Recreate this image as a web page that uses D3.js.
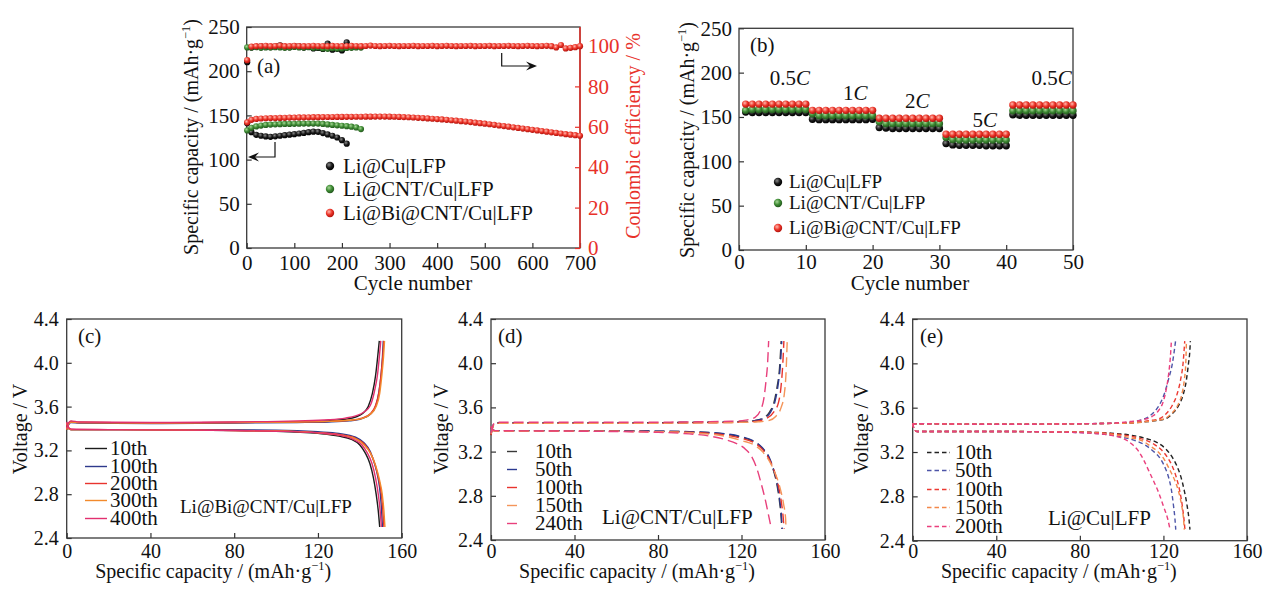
<!DOCTYPE html>
<html>
<head>
<meta charset="utf-8">
<script src="https://cdn.jsdelivr.net/npm/d3@7"></script>
<style>
  body { margin: 0; background: #fff; }
  svg { font-family: "Liberation Serif", "Times New Roman", serif; }
</style>
</head>
<body>
<svg id="chart" width="1269" height="593"></svg>
<script>
// ---- (a) cycling data, sampled every 10 cycles (first point = cycle 1)
const capRed = [142, 145, 146, 146.5, 146.8, 147, 147, 147.2, 147.3, 147.5,
  147.6, 147.7, 147.8, 147.9, 148, 148, 148.1, 148.2, 148.2, 148.3,
  148.3, 148.4, 148.4, 148.5, 148.5, 148.6, 148.6, 148.7, 148.7, 148.7,
  148.6, 148.5, 148.3, 148.1, 147.9, 147.6, 147.3, 147, 146.6, 146.2,
  145.8, 145.4, 145, 144.5, 144, 143.5, 143, 142.4, 141.8, 141.2,
  140.6, 140, 139.3, 138.6, 137.9, 137.2, 136.5, 135.8, 135.1, 134.4,
  133.7, 133, 132.3, 131.6, 130.9, 130.2, 129.5, 128.8, 128.2, 127.6,
  127];
const ceRed = [93, 99.7, 99.9, 100, 100.1, 99.9, 100, 100.2, 99.9, 100,
  100.1, 100, 99.9, 100, 100.1, 100, 100, 99.9, 100.1, 100,
  99.9, 100, 100.1, 100, 99.9, 100, 100.2, 100, 99.9, 100,
  100.1, 100, 99.9, 100, 100, 100.1, 99.9, 100, 100, 100.1,
  99.9, 100, 100.1, 100, 99.9, 100, 100, 100.1, 99.9, 100,
  100, 100.1, 99.9, 100, 100, 100.1, 100, 99.9, 100, 100.1,
  100, 99.9, 100, 100.1, 99.9, 99.3, 100.5, 98.8, 99.1, 99.4,
  99.9];
const capBlack = [141, 131, 128, 127, 126.2, 125.8, 126.3, 127, 127.6, 128.2,
  128.8, 129.5, 130.2, 131, 131.6, 131.4, 130, 128.5, 127, 125,
  122, 118];
const ceBlack = [92, 99.3, 99.6, 99.8, 99.7, 99.5, 99.8, 100.3, 99.6, 99.4,
  100, 99.8, 99.2, 99.5, 98.8, 99, 98.5, 101.2, 98.2, 98.6,
  97.8, 101.8];
const capGreen = [133, 136, 137.5, 138.5, 139.2, 139.6, 139.9, 140.1, 140.3, 140.4,
  140.5, 140.6, 140.7, 140.8, 140.8, 140.7, 140.3, 139.8, 139.2, 138.8,
  138.3, 137.8, 137.2, 136.4, 134.5];
const ceGreen = [99.3, 99.2, 99.4, 99.1, 99.3, 99.2, 99.4, 99.3, 99.1, 99.2,
  99.5, 99.3, 99.2, 99.4, 99.1, 99.3, 98.8, 98.6, 98.9, 98.7,
  98.8, 99, 99.1, 99.3, 99.2];
const cellNames = ['Li@Cu|LFP', 'Li@CNT/Cu|LFP', 'Li@Bi@CNT/Cu|LFP'];

// ---- (b) rate data, cycles 1..50
const rateBlack = [155.5, 155, 155, 155, 155, 155, 155, 155, 155, 155,
  147.5, 147, 147, 147, 147, 147, 147, 147, 147, 147.5,
  138, 137.5, 137, 137, 137, 137, 137, 137, 137, 137,
  120, 118.5, 118, 118, 118, 118, 117.5, 117.5, 117.5, 117.5,
  152.5, 152, 152, 152, 152, 152, 152, 152, 152, 152];
const rateGreen = [157.5, 158.5, 158.5, 158.5, 158.5, 158.5, 158.5, 158.5, 158.5, 158.5,
  153.5, 151.5, 151.5, 151.5, 151.5, 151.5, 151.5, 151.5, 151.5, 151.5,
  144.5, 142.5, 142.5, 142.5, 142.5, 142.5, 142.5, 142.5, 142.5, 142.5,
  127, 124.5, 124, 124, 124, 124, 124, 124, 124, 124,
  157, 157, 157, 157, 157, 157, 157, 157, 157, 157];
const rateRed = [164.5, 164.5, 164.5, 164.5, 164.5, 164.5, 164.5, 164.5, 164.5, 164.5,
  157.5, 157.5, 157.5, 157.5, 157.5, 157.5, 157.5, 157.5, 157.5, 157.5,
  148.5, 148.5, 148.5, 148.5, 148.5, 148.5, 148.5, 148.5, 148.5, 148.5,
  130.5, 130.5, 130.5, 130.5, 130.5, 130.5, 130.5, 130.5, 130.5, 130.5,
  163.5, 163.5, 163.5, 163.5, 163.5, 163.5, 163.5, 163.5, 163.5, 163.5];
const rateNames = ['0.5', '1', '2', '5', '0.5'];

// ---- (c) Li@Bi@CNT/Cu|LFP, [capacity, voltage]
const cLabels = ['10th', '100th', '200th', '300th', '400th'];
const cCharge = [
  [[0,3.39],[0.8,3.44],[2,3.465],[6,3.455],[40,3.45],[80,3.455],[110,3.46],[125,3.47],[133,3.485],[138,3.505],[141.5,3.54],[144,3.6],[146,3.72],[147.5,3.88],[148.5,4.05],[149.3,4.2]],
  [[0,3.39],[0.8,3.43],[2,3.455],[6,3.45],[40,3.445],[80,3.45],[110,3.455],[125,3.46],[135,3.47],[141,3.49],[145,3.53],[147.5,3.6],[149,3.72],[150.2,3.9],[150.8,4.05],[151.2,4.2]],
  [[0,3.39],[0.8,3.44],[2,3.46],[6,3.455],[40,3.45],[80,3.455],[110,3.46],[125,3.465],[135,3.475],[141,3.495],[145,3.535],[147.5,3.61],[149.2,3.74],[150.3,3.92],[151,4.07],[151.5,4.2]],
  [[0,3.39],[0.8,3.44],[2,3.46],[6,3.455],[40,3.45],[80,3.455],[110,3.46],[125,3.465],[135,3.475],[141,3.49],[145,3.53],[147.8,3.6],[149.5,3.72],[150.6,3.9],[151.3,4.05],[151.8,4.2]],
  [[0,3.4],[0.8,3.45],[2,3.47],[6,3.46],[40,3.455],[80,3.46],[110,3.47],[125,3.48],[133,3.495],[138,3.515],[142,3.55],[145,3.61],[147,3.74],[148.5,3.9],[149.3,4.05],[150,4.2]]
];
const cDischarge = [
  [[0,3.45],[0.6,3.41],[2,3.39],[20,3.39],[60,3.385],[100,3.375],[120,3.355],[130,3.33],[136,3.3],[140,3.25],[142.5,3.18],[144.8,3.08],[146.5,2.95],[147.8,2.8],[148.8,2.65],[149.5,2.5]],
  [[0,3.45],[0.6,3.41],[2,3.39],[20,3.39],[60,3.39],[100,3.385],[120,3.37],[130,3.355],[138,3.32],[142,3.27],[145,3.19],[147,3.08],[148.7,2.95],[149.8,2.8],[150.4,2.65],[150.8,2.5]],
  [[0,3.45],[0.6,3.41],[2,3.39],[20,3.39],[60,3.385],[100,3.378],[120,3.362],[130,3.345],[138,3.31],[142,3.26],[145,3.18],[147.3,3.07],[149,2.94],[150.3,2.8],[151,2.65],[151.5,2.5]],
  [[0,3.45],[0.6,3.41],[2,3.39],[20,3.39],[60,3.385],[100,3.378],[120,3.36],[130,3.34],[138,3.305],[142,3.25],[145.2,3.17],[147.6,3.06],[149.4,2.93],[150.7,2.8],[151.5,2.65],[152,2.5]],
  [[0,3.46],[0.6,3.42],[2,3.395],[20,3.39],[60,3.385],[100,3.375],[120,3.36],[130,3.34],[137,3.3],[141,3.25],[143.5,3.18],[145.8,3.08],[147.5,2.95],[148.8,2.8],[149.7,2.65],[150.3,2.5]]
];

// ---- (d) Li@CNT/Cu|LFP
const dLabels = ['10th', '50th', '100th', '150th', '240th'];
const dCharge = [
  [[0,3.35],[0.8,3.42],[2,3.46],[20,3.46],[60,3.46],[100,3.465],[120,3.47],[126,3.48],[130,3.5],[133.5,3.56],[135.5,3.64],[137,3.78],[138.2,3.95],[139,4.2]],
  [[0,3.36],[0.8,3.43],[2,3.46],[20,3.46],[60,3.46],[100,3.465],[120,3.47],[126,3.48],[130.5,3.5],[134,3.56],[136,3.65],[137.5,3.8],[138.6,3.98],[139.3,4.2]],
  [[0,3.35],[0.8,3.42],[2,3.455],[20,3.455],[60,3.455],[100,3.46],[120,3.465],[127,3.475],[132,3.5],[135.5,3.56],[137.8,3.65],[139,3.8],[139.8,4.0],[140.3,4.2]],
  [[0,3.36],[0.8,3.42],[2,3.455],[20,3.455],[60,3.455],[100,3.46],[120,3.465],[128,3.47],[133,3.48],[136.5,3.52],[139,3.6],[140.5,3.72],[141.3,3.9],[141.9,4.2]],
  [[0,3.37],[0.8,3.43],[2,3.465],[20,3.465],[60,3.465],[100,3.47],[115,3.475],[122,3.485],[126.5,3.51],[129,3.57],[130.7,3.68],[131.8,3.85],[132.5,4.0],[133,4.2]]
];
const dDischarge = [
  [[0,3.42],[0.6,3.4],[2,3.39],[40,3.39],[80,3.385],[100,3.375],[112,3.36],[120,3.33],[126,3.29],[130,3.23],[133,3.15],[135.3,3.03],[137,2.9],[138.2,2.75],[139,2.6],[139.3,2.5]],
  [[0,3.42],[0.6,3.4],[2,3.39],[40,3.39],[80,3.385],[100,3.377],[112,3.362],[120,3.335],[126,3.295],[130,3.235],[133.2,3.15],[135.5,3.03],[137.2,2.9],[138.4,2.75],[139.2,2.6],[139.5,2.5]],
  [[0,3.42],[0.6,3.4],[2,3.385],[40,3.385],[80,3.38],[100,3.37],[112,3.35],[120,3.32],[126,3.28],[130,3.22],[133,3.14],[135.8,3.02],[137.8,2.88],[139.2,2.73],[140,2.6],[140.4,2.5]],
  [[0,3.42],[0.6,3.4],[2,3.385],[40,3.385],[80,3.38],[100,3.365],[112,3.34],[120,3.3],[126,3.26],[130,3.2],[133.5,3.11],[136.2,3.0],[138.5,2.87],[140.2,2.72],[141.1,2.6],[141.3,2.52]],
  [[0,3.43],[0.6,3.4],[2,3.39],[40,3.385],[80,3.375],[95,3.36],[105,3.34],[112,3.31],[118,3.27],[122,3.22],[125,3.15],[127.3,3.05],[129.3,2.92],[131.2,2.78],[133,2.62],[134.3,2.5]]
];

// ---- (e) Li@Cu|LFP
const eLabels = ['10th', '50th', '100th', '150th', '200th'];
const eCharge = [
  [[0,3.44],[1,3.455],[40,3.45],[80,3.455],[100,3.46],[110,3.47],[117,3.485],[121,3.5],[124.5,3.55],[127.3,3.62],[129.5,3.72],[131,3.85],[132,4.0],[132.6,4.1],[132.9,4.2]],
  [[0,3.44],[1,3.455],[40,3.45],[80,3.455],[95,3.46],[104,3.47],[109.5,3.49],[113,3.52],[116,3.57],[118.5,3.64],[120.7,3.74],[122.5,3.86],[124.3,4.0],[125.8,4.2]],
  [[0,3.44],[1,3.455],[40,3.45],[80,3.455],[100,3.46],[108,3.47],[114,3.485],[118,3.5],[121.5,3.55],[124.2,3.62],[126.5,3.72],[128.2,3.85],[129.4,4.0],[130.2,4.2]],
  [[0,3.44],[1,3.455],[40,3.45],[80,3.455],[100,3.46],[110,3.47],[116.5,3.485],[120.5,3.5],[124,3.55],[126.8,3.62],[128.8,3.72],[130,3.85],[130.7,4.0],[131,4.2]],
  [[0,3.44],[1,3.455],[40,3.45],[80,3.455],[95,3.46],[104,3.475],[110,3.49],[114.5,3.52],[117.5,3.57],[120,3.66],[121.5,3.78],[122.6,3.92],[123.3,4.05],[123.8,4.2]]
];
const eDischarge = [
  [[0,3.46],[0.6,3.41],[2,3.385],[40,3.385],[80,3.38],[95,3.37],[105,3.35],[112,3.32],[117.5,3.28],[121,3.23],[124,3.16],[126.3,3.08],[128.3,2.98],[130,2.85],[131.3,2.72],[132.2,2.6],[132.7,2.5]],
  [[0,3.46],[0.6,3.41],[2,3.385],[40,3.385],[80,3.375],[92,3.36],[101,3.33],[107,3.3],[111.5,3.26],[115,3.21],[118.5,3.14],[121,3.05],[122.5,2.97],[123.8,2.86],[124.8,2.72],[125.5,2.6],[125.9,2.5]],
  [[0,3.46],[0.6,3.41],[2,3.385],[40,3.385],[80,3.38],[95,3.365],[105,3.34],[111,3.31],[115.5,3.27],[119,3.22],[122,3.15],[124.3,3.07],[126.2,2.97],[127.8,2.85],[129,2.72],[129.8,2.6],[130.3,2.5]],
  [[0,3.46],[0.6,3.41],[2,3.385],[40,3.385],[80,3.378],[95,3.36],[104,3.33],[110,3.3],[114,3.25],[117.5,3.2],[120.5,3.13],[123,3.04],[125.3,2.95],[127.3,2.84],[128.7,2.72],[129.6,2.6],[130,2.5]],
  [[0,3.46],[0.6,3.41],[2,3.385],[40,3.385],[70,3.38],[85,3.37],[95,3.35],[101,3.32],[105,3.27],[108,3.21],[110.5,3.13],[113,3.03],[115.5,2.93],[118,2.82],[120.2,2.7],[122,2.6],[123.2,2.5]]
];

const capTicks = [0, 50, 100, 150, 200, 250];
const ceTicks = [0, 20, 40, 60, 80, 100];
const cycleTicksA = [0, 100, 200, 300, 400, 500, 600, 700];
const cycleTicksB = [0, 10, 20, 30, 40, 50];
const capTicksV = [0, 40, 80, 120, 160];
const voltTicks = [2.4, 2.8, 3.2, 3.6, 4.0, 4.4];

const svg = d3.select('#chart');
const defs = svg.append('defs');
const RED = '#e8312a';

// shaded balls for the scatter markers
function ball(id, light, base, dark) {
  const gr = defs.append('radialGradient').attr('id', id)
    .attr('cx', '38%').attr('cy', '35%').attr('r', '65%');
  gr.append('stop').attr('offset', '0%').attr('stop-color', light);
  gr.append('stop').attr('offset', '55%').attr('stop-color', base);
  gr.append('stop').attr('offset', '100%').attr('stop-color', dark);
}
ball('ball-k', '#8a8a8a', '#1a1a1a', '#000');
ball('ball-g', '#a6d696', '#3e8b34', '#24591e');
ball('ball-r', '#ffb8ae', '#ec3529', '#b3140e');
const balls = ['url(#ball-k)', 'url(#ball-g)', 'url(#ball-r)'];

function drawAxes(x, y, o) {
  const [x0, x1] = x.range();
  const [y0, y1] = y.range();
  const gx = svg.append('g')
    .attr('transform', `translate(0,${y0})`)
    .call(d3.axisBottom(x).tickValues(o.xTicks).tickSizeInner(-5).tickSizeOuter(0)
      .tickPadding(o.xPad).tickFormat(d3.format('d')));
  const gy = svg.append('g')
    .attr('transform', `translate(${x0},0)`)
    .call(d3.axisLeft(y).tickValues(o.yTicks).tickSizeInner(-5).tickSizeOuter(0)
      .tickPadding(o.yPad).tickFormat(o.yFmt || d3.format('d')));
  [gx, gy].forEach(g => {
    g.attr('font-family', null).attr('font-size', o.fs);
    g.select('.domain').remove();
    g.selectAll('.tick line').attr('stroke', '#333').attr('stroke-width', 1.2);
    g.selectAll('.tick text').attr('fill', '#111');
  });
  svg.append('rect')
    .attr('x', x0).attr('y', y1)
    .attr('width', x1 - x0).attr('height', y0 - y1)
    .attr('fill', 'none').attr('stroke', '#3a3a3a').attr('stroke-width', 1.3);
}

function capTitle(sel, fs) {
  sel.append('tspan').text('Specific capacity / (mAh·g');
  sel.append('tspan').text('−1').attr('font-size', fs * 0.62).attr('dy', -fs * 0.4);
  sel.append('tspan').text(')').attr('dy', fs * 0.4);
}

function text(x, y, s, fs, anchor) {
  return svg.append('text').attr('x', x).attr('y', y)
    .attr('font-size', fs).attr('fill', '#111')
    .attr('text-anchor', anchor || 'start').text(s);
}

// ================= (a)
const xA = d3.scaleLinear().domain([0, 700]).range([246.7, 580]);
const yA = d3.scaleLinear().domain([0, 250]).range([248, 27]);
const yCE = d3.scaleLinear().domain([0, 109.4]).range([248, 27]);
drawAxes(xA, yA, { xTicks: cycleTicksA, yTicks: capTicks, xPad: 7, yPad: 7, fs: 21 });

const gRight = svg.append('g')
  .attr('transform', `translate(${xA.range()[1]},0)`)
  .call(d3.axisRight(yCE).tickValues(ceTicks).tickSizeInner(-5).tickSizeOuter(0).tickPadding(8));
gRight.attr('font-family', null).attr('font-size', 21);
gRight.select('.domain').remove();
gRight.selectAll('.tick line').attr('stroke', RED).attr('stroke-width', 1.2);
gRight.selectAll('.tick text').attr('fill', RED);
svg.append('line')
  .attr('x1', xA.range()[1]).attr('x2', xA.range()[1])
  .attr('y1', yA.range()[0]).attr('y2', yA.range()[1])
  .attr('stroke', RED).attr('stroke-width', 1.5);

const cyc = arr => arr.map((_, i) => (i === 0 ? 1 : i * 10));
const seriesA = [
  { cap: capBlack, ce: ceBlack },
  { cap: capGreen, ce: ceGreen },
  { cap: capRed, ce: ceRed }
];
seriesA.forEach((s, k) => {
  const c = cyc(s.cap);
  const g = svg.append('g');
  g.selectAll('circle.cap').data(s.cap).enter().append('circle')
    .attr('cx', (d, i) => xA(c[i])).attr('cy', d => yA(d))
    .attr('r', 3.1).attr('fill', balls[k]);
  g.selectAll('circle.ce').data(s.ce).enter().append('circle')
    .attr('cx', (d, i) => xA(c[i])).attr('cy', d => yCE(d))
    .attr('r', 3.1).attr('fill', balls[k]);
});

// arrows
function arrow(path, tip, dir) {
  svg.append('path').attr('d', path).attr('fill', 'none')
    .attr('stroke', '#111').attr('stroke-width', 1.2);
  const [tx, ty] = tip;
  svg.append('path')
    .attr('d', `M${tx},${ty} L${tx - dir * 11},${ty - 4.5} L${tx - dir * 7},${ty} L${tx - dir * 11},${ty + 4.5} Z`)
    .attr('fill', '#111');
}
arrow('M275,142 V157 H252', [248, 157], -1);
arrow('M501.7,53 V66 H532', [537, 66], 1);

text(257, 73, '(a)', 21);
svg.append('text')
  .attr('transform', 'translate(198,137) rotate(-90)')
  .attr('text-anchor', 'middle').attr('font-size', 20).attr('fill', '#111')
  .call(capTitle, 20);
svg.append('text')
  .attr('transform', 'translate(640,136) rotate(-90)')
  .attr('text-anchor', 'middle').attr('font-size', 20).attr('fill', RED)
  .text('Coulombic efficiency / %');
text(413, 290, 'Cycle number', 21, 'middle');

cellNames.forEach((n, i) => {
  const yy = [166, 189, 213][i];
  svg.append('circle').attr('cx', 330).attr('cy', yy).attr('r', 4.2).attr('fill', balls[i]);
  text(343, yy + 7, n, 21);
});

// ================= (b)
const xB = d3.scaleLinear().domain([0, 50]).range([739, 1073]);
const yB = d3.scaleLinear().domain([0, 250]).range([250, 28.3]);
drawAxes(xB, yB, { xTicks: cycleTicksB, yTicks: capTicks, xPad: 4, yPad: 7, fs: 21 });

[rateBlack, rateGreen, rateRed].forEach((arr, k) => {
  svg.append('g').selectAll('circle').data(arr).enter().append('circle')
    .attr('cx', (d, i) => xB(i + 1)).attr('cy', d => yB(d))
    .attr('r', 3.7).attr('fill', balls[k]);
});

const rateX = [7.6, 17.4, 26.7, 36.8, 46.8];
const rateY = [85, 100, 108, 127, 85];
rateNames.forEach((r, i) => {
  const t = svg.append('text')
    .attr('x', xB(rateX[i])).attr('y', rateY[i])
    .attr('text-anchor', 'middle').attr('font-size', 21).attr('fill', '#111');
  t.append('tspan').text(r);
  t.append('tspan').text('C').attr('font-style', 'italic');
});

text(750, 52, '(b)', 21);
svg.append('text')
  .attr('transform', 'translate(694,140) rotate(-90)')
  .attr('text-anchor', 'middle').attr('font-size', 20).attr('fill', '#111')
  .call(capTitle, 20);
text(910, 290, 'Cycle number', 21, 'middle');

cellNames.forEach((n, i) => {
  const yy = [182, 203, 228][i];
  svg.append('circle').attr('cx', 778).attr('cy', yy).attr('r', 4.2).attr('fill', balls[i]);
  text(789, yy + 6, n, 19);
});

// ================= (c)-(e) voltage profiles
function voltPanel(p) {
  const x = d3.scaleLinear().domain([0, 160]).range(p.xr);
  const y = d3.scaleLinear().domain([2.4, 4.4]).range(p.yr);
  drawAxes(x, y, { xTicks: capTicksV, yTicks: voltTicks, xPad: p.xPad, yPad: 8, fs: 20, yFmt: d3.format('.1f') });
  const line = d3.line().x(d => x(d[0])).y(d => y(d[1])).curve(d3.curveMonotoneX);
  p.labels.forEach((lab, i) => {
    [p.charge[i], p.discharge[i]].forEach(curve => {
      svg.append('path').datum(curve).attr('d', line)
        .attr('fill', 'none').attr('stroke', p.colors[i])
        .attr('stroke-width', 1.4).attr('stroke-dasharray', p.dash);
    });
    const by = p.legY[i];
    svg.append('line')
      .attr('x1', p.legX[0]).attr('x2', p.legX[1])
      .attr('y1', by - 6.5).attr('y2', by - 6.5)
      .attr('stroke', p.colors[i]).attr('stroke-width', 1.4)
      .attr('stroke-dasharray', p.dash);
    text(p.legX[2], by, lab, 21);
  });
  text(p.tag[0], 343, p.tag[1], 21);
  text(p.note[0], p.note[1], p.note[2], p.note[3]);
  svg.append('text')
    .attr('transform', `translate(${p.yTitleX},429) rotate(-90)`)
    .attr('text-anchor', 'middle').attr('font-size', 20).attr('fill', '#111')
    .text('Voltage / V');
  svg.append('text')
    .attr('x', (p.xr[0] + p.xr[1]) / 2 - 21).attr('y', 578)
    .attr('text-anchor', 'middle').attr('font-size', 20).attr('fill', '#111')
    .call(capTitle, 20);
}

voltPanel({
  xr: [66.7, 401.7], yr: [538, 319], xPad: 6,
  labels: cLabels, charge: cCharge, discharge: cDischarge,
  colors: ['#1c1c1c', '#2e3a8c', '#e8342e', '#f28a2c', '#e2306f'],
  dash: null,
  legX: [85, 107, 110], legY: [455, 473, 490, 507, 525],
  tag: [78, '(c)'], note: [180, 513, 'Li@Bi@CNT/Cu|LFP', 19], yTitleX: 27
});
voltPanel({
  xr: [491, 825], yr: [540, 319], xPad: 4,
  labels: dLabels, charge: dCharge, discharge: dDischarge,
  colors: ['#3a3a3a', '#2b3990', '#e8342e', '#f4955a', '#e8407c'],
  dash: '10,5',
  legX: [507, 518, 535], legY: [458, 476, 494, 512, 530],
  tag: [498, '(d)'], note: [602, 524, 'Li@CNT/Cu|LFP', 21], yTitleX: 448
});
voltPanel({
  xr: [912.7, 1247], yr: [540.7, 319], xPad: 3,
  labels: eLabels, charge: eCharge, discharge: eDischarge,
  colors: ['#222222', '#4d55a8', '#ec3a32', '#f3884a', '#ea3f7d'],
  dash: '4.5,3',
  legX: [927, 950, 955], legY: [459, 477, 496, 514, 533],
  tag: [920, '(e)'], note: [1048, 525, 'Li@Cu|LFP', 21], yTitleX: 868
});
</script>
</body>
</html>
